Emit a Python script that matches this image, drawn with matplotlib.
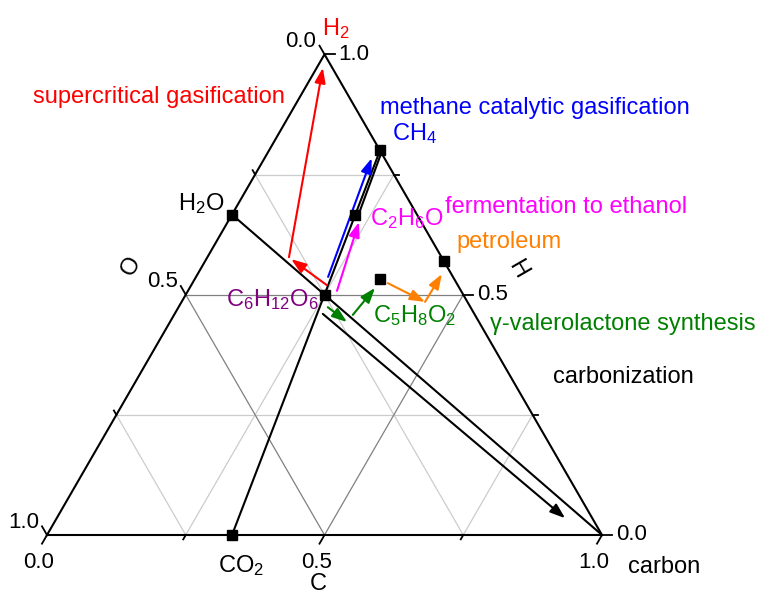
import numpy as np
import matplotlib
matplotlib.use("Agg")
import matplotlib.pyplot as plt

plt.rcParams['font.family'] = ['Liberation Sans', 'DejaVu Sans']
plt.rcParams['mathtext.fontset'] = 'custom'
plt.rcParams['mathtext.rm'] = 'Liberation Sans'
plt.rcParams['mathtext.default'] = 'regular'

# compounds: atom counts C, H, O
names = ["H2O", "CO2", "CH4", "C2H6O", "C6H12O6", "C5H8O2"]
n_C = [0, 1, 1, 2, 6, 5]
n_H = [2, 0, 4, 6, 12, 8]
n_O = [1, 2, 0, 1, 6, 2]

# petroleum (atom fractions C, H)
pet_C = 0.43
pet_H = 0.57

# extra black guide line next to C2H6O -> CH4 (C, H fractions)
guide_C = [0.227, 0.204]
guide_H = [0.672, 0.800]

# process arrows: start (C, H) and end (C, H) atom fractions
arrow_color = ["red", "red", "blue", "magenta", "green", "green",
               "#ff8000", "#ff8000", "black"]
arrow_C0 = [0.244, 0.147, 0.238, 0.2685, 0.269, 0.322, 0.352, 0.4387, 0.267]
arrow_H0 = [0.520, 0.578, 0.537, 0.508, 0.474, 0.458, 0.524, 0.485, 0.460]
arrow_C1 = [0.153, 0.011, 0.193, 0.2366, 0.319, 0.334, 0.4387, 0.440, 0.916]
arrow_H1 = [0.574, 0.972, 0.784, 0.651, 0.443, 0.514, 0.485, 0.543, 0.035]

ticks = [0.0, 0.25, 0.5, 0.75, 1.0]
tick_labels = ["0.0", "", "0.5", "", "1.0"]

S3 = np.sqrt(3) / 2
PX = 1 / 555.0  # one pixel in data units


def tern(c, h):
    return c + h / 2, h * S3


fig = plt.figure(figsize=(7.58, 5.96), dpi=100)
ax = fig.add_axes([0, 0, 1, 1])
ax.set_xlim(-47 * PX, 711 * PX)
ax.set_ylim(-61 * PX, 535 * PX)
ax.axis("off")

# grid
for v in [0.25, 0.5, 0.75]:
    col = "#808080" if v == 0.5 else "#cccccc"
    for (c0, h0), (c1, h1) in [((0, v), (1 - v, v)),
                               ((v, 0), (v, 1 - v)),
                               ((0, 1 - v), (1 - v, 0))]:
        x0, y0 = tern(c0, h0)
        x1, y1 = tern(c1, h1)
        ax.plot([x0, x1], [y0, y1], color=col, lw=0.9, zorder=1)

# triangle frame
tx, ty = tern(np.array([0, 1, 0, 0]), np.array([0, 0, 1, 0]))
ax.plot(tx, ty, color="black", lw=1.5, zorder=3)

# ticks and labels
for t, lab in zip(ticks, tick_labels):
    L = 10 * PX if lab else 5 * PX
    # C axis (bottom)
    x, y = tern(t, 0)
    ax.plot([x, x - 0.5 * L], [y, y - S3 * L], color="black", lw=1.3)
    if lab:
        ax.text(x - 8 * PX, y - 17 * PX, lab, ha="center", va="top", fontsize=16)
    # O axis (left)
    x, y = tern(0, 1 - t)
    ax.plot([x, x - 0.5 * L], [y, y + S3 * L], color="black", lw=1.3)
    if lab:
        ax.text(x - 8 * PX, y + 7.5 * PX, lab, ha="right", va="baseline", fontsize=16)
    # H axis (right)
    x, y = tern(1 - t, t)
    ax.plot([x, x + L], [y, y], color="black", lw=1.3)
    if lab:
        ax.text(x + 14 * PX, y, lab, ha="left", va="center", fontsize=16)

ax.text(271 * PX, -60 * PX, "C", ha="center", va="bottom", fontsize=17)
ax.text(84.5 * PX, 268.5 * PX, "O", ha="center", va="center", fontsize=17, rotation=60)
ax.text(471 * PX, 266 * PX, "H", ha="center", va="center", fontsize=17, rotation=-60)

# compound points
tot = np.array(n_C) + np.array(n_H) + np.array(n_O)
fc = np.array(n_C) / tot
fh = np.array(n_H) / tot
px, py = tern(fc, fh)
pts = dict(zip(names, zip(px, py)))

# reaction lines
for a, b in [("H2O", None), ("CO2", "CH4")]:
    x0, y0 = pts[a]
    x1, y1 = (1.0, 0.0) if b is None else pts[b]
    ax.plot([x0, x1], [y0, y1], color="black", lw=1.5, zorder=3)
gx, gy = tern(np.array(guide_C), np.array(guide_H))
ax.plot(gx, gy, color="black", lw=1.5, zorder=3)

ax.plot(px, py, "s", color="black", ms=7, zorder=5)
qx, qy = tern(pet_C, pet_H)
ax.plot([qx], [qy], "s", color="black", ms=7, zorder=5)

# arrows
for col, c0, h0, c1, h1 in zip(arrow_color, arrow_C0, arrow_H0, arrow_C1, arrow_H1):
    ax.annotate("", xy=tern(c1, h1), xytext=tern(c0, h0),
                arrowprops=dict(arrowstyle="-|>,head_length=0.75,head_width=0.27",
                                color=col, lw=1.5, shrinkA=0, shrinkB=0,
                                mutation_scale=12), zorder=4)

# text labels
fs = 17
ax.text(-14 * PX, 432 * PX, "supercritical gasification", color="red", fontsize=fs)
ax.text(333 * PX, 421 * PX, "methane catalytic gasification", color="blue", fontsize=fs)
ax.text(345 * PX, 395 * PX, r"CH$_4$", color="blue", fontsize=fs)
ax.text(398 * PX, 322 * PX, "fermentation to ethanol", color="magenta", fontsize=fs)
ax.text(323 * PX, 310 * PX, r"C$_2$H$_6$O", color="magenta", fontsize=fs)
ax.text(409 * PX, 287 * PX, "petroleum", color="#ff8000", fontsize=fs)
ax.text(443 * PX, 205 * PX, "γ-valerolactone synthesis", color="green", fontsize=fs)
ax.text(326 * PX, 213 * PX, r"C$_5$H$_8$O$_2$", color="green", fontsize=fs)
ax.text(179 * PX, 229 * PX, r"C$_6$H$_{12}$O$_6$", color="purple", fontsize=fs)
ax.text(506 * PX, 152 * PX, "carbonization", color="black", fontsize=fs)
ax.text(131 * PX, 325 * PX, r"H$_2$O", color="black", fontsize=fs)
ax.text(171 * PX, -37 * PX, r"CO$_2$", color="black", fontsize=fs)
ax.text(275 * PX, 500 * PX, r"H$_2$", color="red", fontsize=fs)
ax.text(581 * PX, -38 * PX, "carbon", color="black", fontsize=fs)

fig.savefig("out.png", dpi=100)
